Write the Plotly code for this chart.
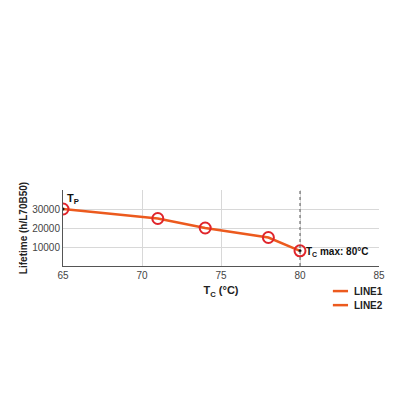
import plotly.graph_objects as go

# readings
temps = [65, 71, 74, 78, 80]
lifetime = [30000, 25000, 20000, 15000, 8000]
y_ticks = [10000, 20000, 30000]
y_labels = ["10000", "20000", "30000"]
x_ticks = [65, 70, 75, 80, 85]
legend_names = ["LINE1", "LINE2"]
tc_max = 80

LINE_COLOR = "#EC5A1E"
RING_COLOR = "#E0252B"
FONT = "Liberation Sans, Arial, sans-serif"

fig = go.Figure()

fig.add_trace(go.Scatter(
    x=temps, y=lifetime, mode="lines",
    line=dict(color=LINE_COLOR, width=2.5),
    showlegend=False, hoverinfo="skip",
))
fig.add_trace(go.Scatter(
    x=temps, y=lifetime, mode="markers",
    marker=dict(symbol="circle-open", size=11, color=RING_COLOR, line=dict(width=2)),
    showlegend=False,
))
# black dots at the two marked points
fig.add_trace(go.Scatter(
    x=[temps[0], temps[-1]], y=[lifetime[0], lifetime[-1]], mode="markers",
    marker=dict(size=3, color="#111"),
    showlegend=False, hoverinfo="skip",
))

fig.add_shape(type="line", x0=tc_max, x1=tc_max, y0=0, y1=1, yref="paper",
              line=dict(color="#555", width=1, dash="dot"))

fig.add_annotation(x=temps[0], y=lifetime[0], text="T<sub>P</sub>", showarrow=False,
                   xanchor="left", yanchor="bottom", xshift=2, yshift=1,
                   font=dict(size=11, color="#111", family=FONT, weight="bold"))
fig.add_annotation(x=temps[-1], y=lifetime[-1], text="T<sub>C</sub> max: 80°C", showarrow=False,
                   xanchor="left", yanchor="middle", xshift=4, yshift=-1,
                   font=dict(size=10, color="#111", family=FONT, weight="bold"))

# small legend below the plot, short line keys
for i, name in enumerate(legend_names):
    yy = -0.33 - i * 0.185
    fig.add_shape(type="line", xref="paper", yref="paper",
                  x0=0.854, x1=0.902, y0=yy, y1=yy,
                  line=dict(color=LINE_COLOR, width=2.5))
    fig.add_annotation(xref="paper", yref="paper", x=0.915, y=yy, text=name,
                       showarrow=False, xanchor="left", yanchor="middle",
                       font=dict(size=10, color="#222", family=FONT, weight="bold"))

fig.update_layout(
    width=400, height=400,
    margin=dict(l=55, r=29, t=182, b=142),
    plot_bgcolor="white", paper_bgcolor="white",
    font=dict(family=FONT, size=10, color="#444"),
    showlegend=False,
    xaxis=dict(
        range=[65, 85], tickvals=x_ticks, showgrid=True, gridcolor="#d8d8d8",
        showline=True, linecolor="#555", linewidth=1, zeroline=False,
        automargin=False, ticks="",
        title=dict(text="T<sub>C</sub> (°C)", standoff=6,
                   font=dict(size=11, color="#222", family=FONT, weight="bold")),
    ),
    yaxis=dict(
        range=[0, 40000], tickvals=y_ticks, ticktext=y_labels,
        showgrid=True, gridcolor="#d8d8d8",
        showline=True, linecolor="#555", linewidth=1, zeroline=False,
        automargin=False, ticks="",
        title=dict(text="Lifetime (h/L70B50)", standoff=2,
                   font=dict(size=10, color="#222", family=FONT, weight="bold")),
    ),
)

fig.write_html("out.html")
